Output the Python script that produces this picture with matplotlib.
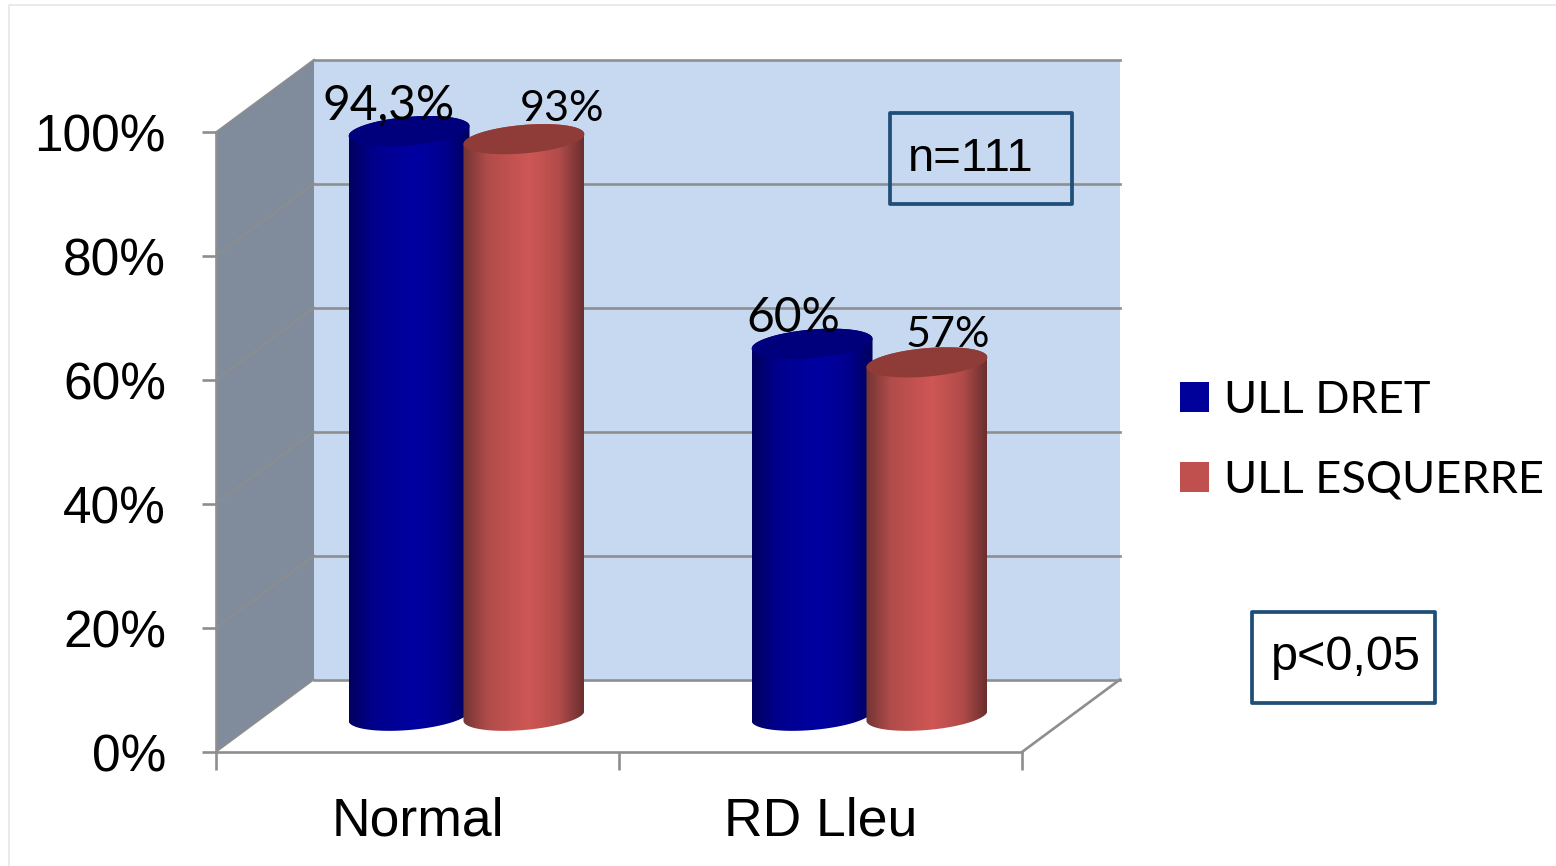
"""Cylinder chart drawn on a hand-built 3D box, percentages per eye."""

import numpy as np
import matplotlib
matplotlib.use('Agg')
import matplotlib.pyplot as plt
import matplotlib.colors as mcolors
from matplotlib.patches import Patch, Polygon, Rectangle
from matplotlib.transforms import ScaledTranslation

# ============================================================================
# Data
# ============================================================================

CATEGORIES = ['Normal', 'RD Lleu']
SERIES_NAMES = ['ULL DRET', 'ULL ESQUERRE']
ULL_DRET = [94.3, 60]
ULL_ESQUERRE = [93, 57]
DRET_LABELS = ['94,3%', '60%']
ESQUERRE_LABELS = ['93%', '57%']
Y_TICKS = [0, 20, 40, 60, 80, 100]
Y_TICK_LABELS = ['0%', '20%', '40%', '60%', '80%', '100%']

# ============================================================================
# Style
# ============================================================================

W, H = 1556, 866
DPI = 100

# plot box in pixels: front plane of the 3D box
LEFT, RIGHT, TOP, BOTTOM = 216, 1022, 132, 752

# depth of the box in data units (one category wide = 403 px, 1% = 6.2 px)
DEPTH_X = 98 / 403
DEPTH_Y = 72.5 / 6.2

# cylinders
BAR_SHIFT = 0.1425      # series offset from the category centre
BAR_RX = 0.15           # ellipse half width
BAR_RY = 2.3            # ellipse half height
BAR_TILT = 0.8          # ellipse rise at its right end

GREY = '#8e8e8e'
WALL_BACK = '#c6d9f1'
WALL_SIDE = '#808b9b'
BOX_EDGE = '#1f4e79'

BLUE_SHADES = ['#00005e', '#00008c', '#0000a2', '#00008e', '#00005c']
RED_SHADES = ['#733534', '#b04c4a', '#cf5755', '#b04c4a', '#6a2e2e']
BLUE_TOP = '#00007c'
RED_TOP = '#8f3c39'
BLUE_KEY = '#00009a'
RED_KEY = '#c0504d'

# label offsets from the top of each cylinder, in pixels
DRET_OFFSETS = [(-20, -12), (-19, -12)]
ESQUERRE_OFFSETS = [(38, -18), (21, -15)]


def px(x, y):
    """Convert a pixel position to figure fractions."""
    return x / W, 1 - y / H


def draw_walls(ax):
    """Side wall, back wall, floor edges and depth gridlines."""
    ax.add_patch(Polygon(
        [(0, 0), (DEPTH_X, DEPTH_Y), (DEPTH_X, 100 + DEPTH_Y), (0, 100)],
        facecolor=WALL_SIDE, edgecolor='none', clip_on=False, zorder=1,
    ))
    ax.add_patch(Polygon(
        [(DEPTH_X, DEPTH_Y), (2 + DEPTH_X, DEPTH_Y),
         (2 + DEPTH_X, 100 + DEPTH_Y), (DEPTH_X, 100 + DEPTH_Y)],
        facecolor=WALL_BACK, edgecolor='none', clip_on=False, zorder=1,
    ))

    for tick in Y_TICKS:
        # back wall line
        ax.plot([DEPTH_X, 2 + DEPTH_X], [tick + DEPTH_Y] * 2, color=GREY,
                lw=1.9, clip_on=False, zorder=2)
        # side wall line, barely visible on the grey
        ax.plot([0, DEPTH_X], [tick, tick + DEPTH_Y], color=GREY,
                lw=1.1, clip_on=False, zorder=2)

    ax.plot([2, 2 + DEPTH_X], [0, DEPTH_Y], color=GREY, lw=1.9,
            clip_on=False, zorder=2)


def ellipse(cx, cy, t):
    """Points of a sheared ellipse around (cx, cy)."""
    x = cx + BAR_RX * np.cos(t)
    y = cy + BAR_RY * np.sin(t) + BAR_TILT * np.cos(t)
    return np.column_stack([x, y])


def draw_cylinder(ax, fig, cx, value, shades, top_color, zorder):
    """Draw one cylinder with a horizontal shading and a flat darker lid."""
    floor = DEPTH_Y / 2
    top = floor + value

    lower = ellipse(cx, floor, np.linspace(np.pi, 2 * np.pi, 80))
    upper = ellipse(cx, top, np.linspace(0, np.pi, 80))
    outline = np.vstack([lower, upper])

    cmap = mcolors.LinearSegmentedColormap.from_list(
        'shade', list(zip([0, 0.2, 0.55, 0.8, 1], shades)))
    body = Polygon(outline, facecolor='none', edgecolor='none',
                   transform=ax.transData)
    ax.add_patch(body)
    im = ax.imshow(
        np.linspace(0, 1, 256).reshape(1, -1), cmap=cmap, aspect='auto',
        extent=[cx - BAR_RX, cx + BAR_RX, floor - 5, top + 5],
        interpolation='bilinear', zorder=zorder,
    )
    im.set_clip_path(body)
    im.set_clip_box(fig.bbox)

    ax.add_patch(Polygon(
        ellipse(cx, top, np.linspace(0, 2 * np.pi, 160)),
        facecolor=top_color, edgecolor='none', clip_on=False,
        zorder=zorder + 0.1,
    ))


def label_bar(ax, cx, value, text, offset, size):
    """Write a value label near the lid of a cylinder."""
    ax.annotate(
        text, xy=(cx, DEPTH_Y / 2 + value), xycoords='data',
        xytext=(offset[0] * 72 / DPI, -offset[1] * 72 / DPI),
        textcoords='offset points', ha='center', va='baseline',
        fontsize=size, family='Lato', color='black',
        annotation_clip=False, zorder=20,
    )


def draw_note(fig, box, text_x, baseline, text, size):
    """Outlined note box placed in figure space."""
    fx0, fy1 = px(box[0], box[3])
    fx1, fy0 = px(box[2], box[1])
    fig.add_artist(Rectangle(
        (fx0, fy1), fx1 - fx0, fy0 - fy1, transform=fig.transFigure,
        facecolor='none', edgecolor=BOX_EDGE, linewidth=2.7, joinstyle='round',
    ))
    tx, ty = px(text_x, baseline)
    fig.text(tx, ty, text, ha='center', va='baseline',
             fontsize=size, family='Liberation Sans', color='black')


def main():
    fig = plt.figure(figsize=(W / DPI, H / DPI), dpi=DPI, facecolor='white')

    # thin frame of the surrounding panel
    x0, y0 = px(9, 5)
    fig.add_artist(plt.Line2D([x0, x0, 1], [0, y0, y0], color='#e6e6e6', lw=1.2,
                              transform=fig.transFigure))

    ax_left, ax_bottom = px(LEFT, BOTTOM)
    ax = fig.add_axes([ax_left, ax_bottom, (RIGHT - LEFT) / W, (BOTTOM - TOP) / H])
    ax.patch.set_visible(False)

    draw_walls(ax)

    centers = np.arange(len(CATEGORIES)) + 0.5 + DEPTH_X / 2
    for i, center in enumerate(centers):
        draw_cylinder(ax, fig, center - BAR_SHIFT, ULL_DRET[i], BLUE_SHADES,
                      BLUE_TOP, 5)
        draw_cylinder(ax, fig, center + BAR_SHIFT, ULL_ESQUERRE[i], RED_SHADES,
                      RED_TOP, 6)
        label_bar(ax, center - BAR_SHIFT, ULL_DRET[i], DRET_LABELS[i],
                  DRET_OFFSETS[i], 34.5)
        label_bar(ax, center + BAR_SHIFT, ULL_ESQUERRE[i], ESQUERRE_LABELS[i],
                  ESQUERRE_OFFSETS[i], 31)

    ax.set_xlim(0, 2)
    ax.set_ylim(0, 100)

    for side in ['top', 'right']:
        ax.spines[side].set_visible(False)
    for side in ['left', 'bottom']:
        ax.spines[side].set_color(GREY)
        ax.spines[side].set_linewidth(1.9)

    ax.set_yticks(Y_TICKS)
    ax.set_yticklabels(Y_TICK_LABELS, fontsize=37, family='Liberation Sans')
    ax.tick_params(axis='y', length=10, width=1.9, color=GREY, pad=26,
                   labelcolor='black')
    # tick labels sit slightly under their ticks
    nudge = ScaledTranslation(0, -1 / DPI, fig.dpi_scale_trans)
    for label in ax.get_yticklabels():
        label.set_transform(label.get_transform() + nudge)

    ax.set_xticks([0, 1, 2])
    ax.set_xticklabels([])
    ax.set_xticks(np.arange(len(CATEGORIES)) + 0.5, minor=True)
    ax.set_xticklabels(CATEGORIES, minor=True, fontsize=38.5,
                       family='Liberation Sans')
    ax.tick_params(axis='x', which='major', length=13, width=1.9, color=GREY)
    ax.tick_params(axis='x', which='minor', length=0, pad=32,
                   labelcolor='black')

    handles = [Patch(facecolor=BLUE_KEY, edgecolor='none'),
               Patch(facecolor=RED_KEY, edgecolor='none')]
    fig.legend(
        handles, SERIES_NAMES, loc='upper left',
        bbox_to_anchor=px(1180, 380), frameon=False, borderpad=0, borderaxespad=0,
        prop={'family': 'Lato', 'size': 32.5},
        handlelength=0.64, handleheight=0.64, handletextpad=0.33,
        labelspacing=0.86, labelcolor='black',
    )

    draw_note(fig, (890, 113, 1072, 204), 971, 171, 'n=111', 34)
    draw_note(fig, (1252, 612, 1435, 703), 1346, 670, 'p<0,05', 35)

    fig.savefig('out.png', dpi=DPI, facecolor='white')
    plt.close(fig)


if __name__ == '__main__':
    main()
